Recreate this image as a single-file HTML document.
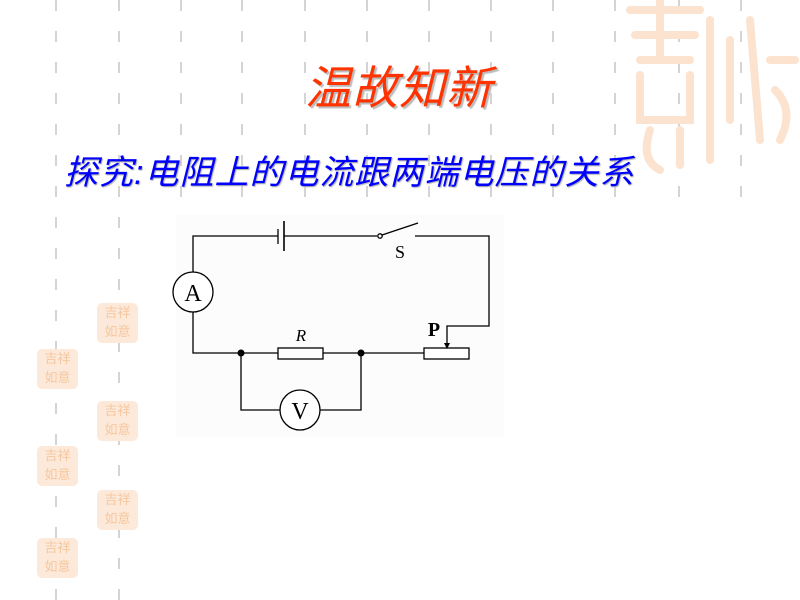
<!DOCTYPE html>
<html><head><meta charset="utf-8"><style>
body{margin:0;width:800px;height:600px;background:#fff;position:relative;overflow:hidden;font-family:"Liberation Sans","Noto Sans CJK SC",sans-serif}
.t{position:absolute;white-space:nowrap;font-style:italic}
.st{position:absolute;width:41px;height:40px;background:#fde9d9;border-radius:5px;color:#f6c7a0;font-size:13px;line-height:19px;overflow:hidden;text-align:center}
</style></head><body>
<svg width="800" height="600" style="position:absolute;left:0;top:0">
<g stroke="#d4d4d4" stroke-width="2" stroke-dasharray="11 20">
<line x1="56" y1="0" x2="56" y2="600"/><line x1="119" y1="0" x2="119" y2="600"/>
<line x1="181" y1="0" x2="181" y2="210"/><line x1="242" y1="0" x2="242" y2="210"/>
<line x1="305" y1="0" x2="305" y2="210"/><line x1="367" y1="0" x2="367" y2="210"/>
<line x1="429" y1="0" x2="429" y2="210"/><line x1="491" y1="0" x2="491" y2="210"/>
<line x1="553" y1="0" x2="553" y2="210"/><line x1="615" y1="0" x2="615" y2="210"/>
<line x1="679" y1="0" x2="679" y2="210"/><line x1="741" y1="0" x2="741" y2="210"/>
</g>
<g fill="none" stroke="#fce3cf" stroke-width="8" stroke-linecap="round">
<path d="M630 10 H700 M635 35 H695 M640 60 H690 M660 0 V60 M640 75 V120 H690 V75"/>
<path d="M710 20 V160 M730 40 V120 M750 20 L760 140 M770 60 H795 M775 90 Q795 110 780 140"/>
<path d="M650 130 Q640 160 660 170 M680 130 V165"/>
</g>
<rect x="176" y="215" width="328" height="223" fill="#fcfcfc"/>
<g stroke="#000" stroke-width="1.3" fill="none">
<path d="M278 236 H193 V272 M193 312 V353 H278 M323 353 H424 M284 236 H377 M415 236 H489 V326 H447 V344"/>
<path d="M241 353 V410 H280 M320 410 H361 V353"/>
<line x1="278" y1="229" x2="278" y2="244"/><line x1="284" y1="221" x2="284" y2="251" stroke-width="1.6"/>
<line x1="382" y1="235" x2="418" y2="223"/>
<rect x="278" y="348" width="45" height="11" fill="#fff"/>
<rect x="424" y="348" width="45" height="11" fill="#fff"/>
<circle cx="193" cy="292" r="20" fill="#fff"/><circle cx="300" cy="410" r="20" fill="#fff"/>
<circle cx="380" cy="236" r="2.2" fill="#fff"/>
</g>
<path d="M444 343 H450 L447 349 Z" fill="#000"/>
<circle cx="241" cy="353" r="3.5"/><circle cx="361" cy="353" r="3.5"/>
<g font-family="Liberation Serif,serif" fill="#000">
<text x="193" y="301" font-size="24" text-anchor="middle">A</text>
<text x="300" y="419" font-size="24" text-anchor="middle">V</text>
<text x="400" y="258" font-size="18" text-anchor="middle">S</text>
<text x="301" y="341" font-size="17" font-style="italic" text-anchor="middle">R</text>
<text x="434" y="336" font-size="20" font-weight="bold" text-anchor="middle">P</text>
</g>
</svg>
<div class="st" style="left:97px;top:303px">吉祥<br>如意</div>
<div class="st" style="left:37px;top:349px">吉祥<br>如意</div>
<div class="st" style="left:97px;top:401px">吉祥<br>如意</div>
<div class="st" style="left:37px;top:446px">吉祥<br>如意</div>
<div class="st" style="left:97px;top:490px">吉祥<br>如意</div>
<div class="st" style="left:37px;top:538px">吉祥<br>如意</div>
<div class="t" style="left:305px;top:52px;font-size:46px;color:#ff3300;letter-spacing:1px;text-shadow:2px 2px 1px #bbb">温故知新</div>
<div class="t" style="left:64px;top:145px;font-size:34px;color:#0000ff;letter-spacing:1px;text-shadow:1px 1px 1px #aaa">探究:电阻上的电流跟两端电压的关系</div>
</body></html>
